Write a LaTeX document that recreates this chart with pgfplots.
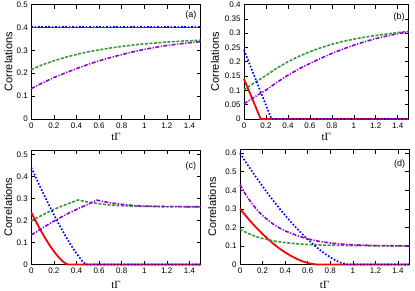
\documentclass[border=0pt]{standalone}
\usepackage{fontspec}
\setmainfont{Liberation Sans}
\newfontfamily\seriffont{Liberation Serif}
\usepackage{pgfplots}
\pgfplotsset{compat=1.18}
\definecolor{cred}{RGB}{255,0,0}
\definecolor{cgreen}{RGB}{60,150,60}
\definecolor{cblue}{RGB}{0,0,255}
\definecolor{cpurple}{RGB}{148,0,211}
\tikzset{
 plab/.style={anchor=east, font=\fontsize{9}{10}\selectfont, inner sep=0pt},
 sr/.style={cred, line width=1.8pt},
 sg/.style={cgreen, line width=1.6pt, dash pattern=on 3pt off 1.5pt},
 sb/.style={cblue, line width=1.7pt, dash pattern=on 1.6pt off 1.8pt},
 sp/.style={cpurple, line width=1.6pt, dash pattern=on 4pt off 1.5pt on 1.2pt off 1.5pt},
}
\pgfplotsset{
 panel/.style={scale only axis, xmin=0, xmax=1.5, ymin=0,
   xtick={0,0.2,0.4,0.6,0.8,1,1.2,1.4}, clip=false,
   tick label style={font=\fontsize{8}{9}\selectfont},
   /pgf/number format/assume math mode=true,
   /pgf/number format/fixed, /pgf/number format/precision=2, scaled ticks=false,
   axis line style={line width=0.7pt}, every tick/.style={black,line width=0.6pt},
   major tick length=4pt,
   xlabel={\seriffont tΓ}, ylabel={Correlations},
   label style={font=\fontsize{11}{12}\selectfont},
 },
}
\begin{document}
\begin{tikzpicture}
\useasboundingbox (0pt,0pt) rectangle (415pt,-291pt);
% (a)
\begin{axis}[panel, at={(31.3pt,-119pt)}, anchor=south west, width=169.4pt, height=114.5pt,
  ymax=0.5, ytick={0,0.1,0.2,0.3,0.4,0.5},
  xlabel style={at={(axis description cs:0.5,0)}, anchor=center, yshift=-18pt},
  ylabel style={at={(axis description cs:-0.135,0.5)}, anchor=center}]
\addplot[sr] coordinates {(0,0.4)(0.5,0.4)(1,0.4)(1.5,0.4)};
\addplot[sg] coordinates {(0,0.216)(0.1,0.237)(0.2,0.254)(0.3,0.269)(0.4,0.282)(0.5,0.293)(0.6,0.302)(0.7,0.310)(0.8,0.317)(0.9,0.323)(1.0,0.328)(1.1,0.332)(1.2,0.336)(1.3,0.339)(1.4,0.342)(1.5,0.344)};
\addplot[sb] coordinates {(0,0.4005)(0.5,0.4005)(1,0.4005)(1.5,0.4005)};
\addplot[sp] coordinates {(0,0.133)(0.1,0.158)(0.2,0.181)(0.3,0.201)(0.4,0.220)(0.5,0.238)(0.6,0.254)(0.7,0.268)(0.8,0.281)(0.9,0.293)(1.0,0.304)(1.1,0.313)(1.2,0.321)(1.3,0.327)(1.4,0.333)(1.5,0.338)};
\node[plab] at (rel axis cs:0.975,0.904) {(a)};
\end{axis}
% (b)
\begin{axis}[panel, at={(244pt,-119pt)}, anchor=south west, width=164.7pt, height=114.5pt,
  ymax=0.4, ytick={0,0.05,0.1,0.15,0.2,0.25,0.3,0.35,0.4},
  xlabel style={at={(axis description cs:0.5,0)}, anchor=center, yshift=-18pt},
  ylabel style={at={(axis description cs:-0.176,0.5)}, anchor=center}]
\addplot[sr] coordinates {(0,0.14)(0.152,0)(1.5,0)};
\addplot[sg] coordinates {(0,0.102)(0.1,0.128)(0.2,0.152)(0.3,0.178)(0.4,0.200)(0.5,0.219)(0.6,0.235)(0.7,0.249)(0.8,0.261)(0.9,0.271)(1.0,0.279)(1.1,0.286)(1.2,0.292)(1.3,0.297)(1.4,0.302)(1.5,0.306)};
\addplot[sb] coordinates {(0,0.241)(0.25,0)(1.5,0)};
\addplot[sp] coordinates {(0,0.053)(0.1,0.078)(0.2,0.101)(0.3,0.128)(0.4,0.153)(0.5,0.175)(0.6,0.194)(0.7,0.212)(0.8,0.229)(0.9,0.244)(1.0,0.258)(1.1,0.270)(1.2,0.281)(1.3,0.290)(1.4,0.298)(1.5,0.304)};
\node[plab] at (rel axis cs:0.976,0.89) {(b)};
\end{axis}
% (c)
\begin{axis}[panel, at={(31.3pt,-264.5pt)}, anchor=south west, width=169.4pt, height=114.5pt,
  ymax=0.52, ytick={0,0.1,0.2,0.3,0.4,0.5},
  xlabel style={at={(axis description cs:0.5,0)}, anchor=center, yshift=-20pt},
  ylabel style={at={(axis description cs:-0.136,0.5)}, anchor=center}]
\addplot[sr] coordinates {(0,0.236)(0.04,0.196)(0.08,0.158)(0.12,0.122)(0.16,0.089)(0.2,0.060)(0.24,0.034)(0.28,0.013)(0.32,0)(1.5,0)};
\addplot[sg] coordinates {(0,0.198)(0.05,0.212)(0.1,0.225)(0.15,0.238)(0.2,0.250)(0.25,0.261)(0.3,0.271)(0.35,0.281)(0.4,0.290)(0.415,0.293)(0.45,0.289)(0.5,0.284)(0.6,0.276)(0.7,0.270)(0.8,0.267)(0.9,0.265)(1.0,0.264)(1.2,0.263)(1.5,0.262)};
\addplot[sb] coordinates {(0,0.44)(0.05,0.384)(0.1,0.330)(0.15,0.277)(0.2,0.226)(0.25,0.178)(0.3,0.132)(0.35,0.089)(0.4,0.050)(0.45,0.016)(0.485,0)(1.5,0)};
\addplot[sp] coordinates {(0,0.134)(0.05,0.150)(0.1,0.166)(0.15,0.182)(0.2,0.197)(0.25,0.211)(0.3,0.225)(0.35,0.238)(0.4,0.250)(0.45,0.262)(0.5,0.273)(0.55,0.285)(0.58,0.292)(0.65,0.285)(0.7,0.280)(0.8,0.273)(0.9,0.268)(1.0,0.265)(1.1,0.264)(1.2,0.263)(1.5,0.262)};
\node[plab] at (rel axis cs:0.974,0.863) {(c)};
\end{axis}
% (d)
\begin{axis}[panel, at={(240pt,-264.5pt)}, anchor=south west, width=169.3pt, height=115pt,
  ymax=0.62, ytick={0,0.1,0.2,0.3,0.4,0.5,0.6},
  xlabel style={at={(axis description cs:0.5,0)}, anchor=center, yshift=-20pt},
  ylabel style={at={(axis description cs:-0.164,0.5)}, anchor=center}]
\addplot[sr] coordinates {(0,0.3)(0.05,0.263)(0.1,0.228)(0.15,0.195)(0.2,0.164)(0.25,0.136)(0.3,0.110)(0.35,0.086)(0.4,0.065)(0.45,0.047)(0.5,0.031)(0.55,0.018)(0.6,0.008)(0.65,0.002)(0.687,0)(1.5,0)};
\addplot[sg] coordinates {(0,0.19)(0.05,0.174)(0.1,0.160)(0.15,0.149)(0.2,0.140)(0.3,0.127)(0.4,0.118)(0.5,0.112)(0.6,0.108)(0.7,0.105)(0.8,0.104)(1.0,0.102)(1.2,0.101)(1.5,0.100)};
\addplot[sb] coordinates {(0,0.6)(0.05,0.553)(0.1,0.508)(0.15,0.464)(0.2,0.421)(0.25,0.380)(0.3,0.340)(0.35,0.302)(0.4,0.265)(0.45,0.230)(0.5,0.197)(0.55,0.165)(0.6,0.135)(0.65,0.108)(0.7,0.082)(0.75,0.059)(0.8,0.039)(0.85,0.021)(0.9,0.008)(0.953,0)(1.5,0)};
\addplot[sp] coordinates {(0,0.43)(0.05,0.377)(0.1,0.333)(0.15,0.295)(0.2,0.264)(0.25,0.238)(0.3,0.215)(0.35,0.197)(0.4,0.181)(0.5,0.157)(0.6,0.138)(0.7,0.125)(0.8,0.116)(0.9,0.110)(1.0,0.106)(1.2,0.102)(1.5,0.100)};
\node[plab] at (rel axis cs:0.976,0.87) {(d)};
\end{axis}
\end{tikzpicture}
\end{document}
